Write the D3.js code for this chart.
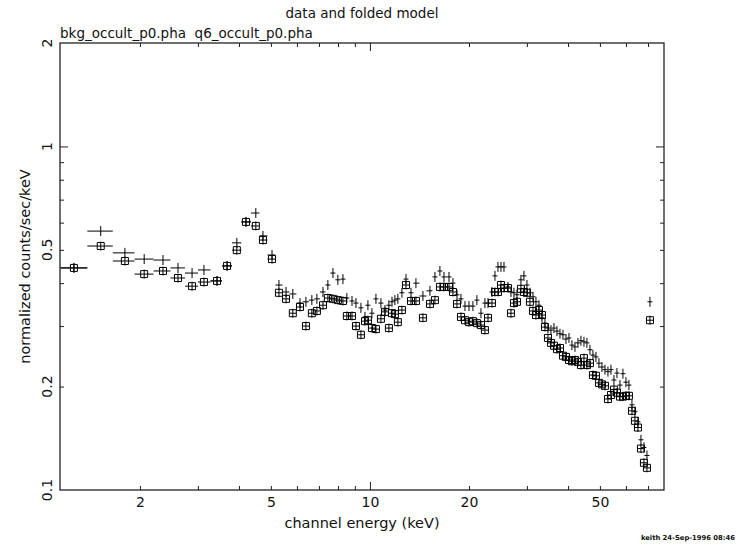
<!DOCTYPE html>
<html>
<head>
<meta charset="utf-8">
<script src="https://cdn.jsdelivr.net/npm/d3@7"></script>
<style>
  body { margin: 0; background: #fff; }
  text { font-family: "DejaVu Sans", sans-serif; fill: #111; }
</style>
</head>
<body>
<div id="chart"></div>
<script>
// channel energies (keV)
const chanE = [
  1.26, 1.52, 1.80, 2.06, 2.35, 2.61, 2.88, 3.13, 3.43, 3.68,
  3.94, 4.20, 4.50, 4.73, 5.04, 5.29, 5.56, 5.83, 6.13, 6.39,
  6.66, 6.90, 7.20, 7.45, 7.72, 7.99, 8.28, 8.51, 8.82, 9.07,
  9.39, 9.66, 9.86, 10.14, 10.43, 10.80, 11.11, 11.42, 11.67, 11.91,
  12.16, 12.51, 12.87, 13.33, 13.80, 14.49, 15.22, 15.76, 16.32, 16.79,
  17.39, 17.88, 18.39, 18.91, 19.45, 20.00, 20.56, 21.14, 21.75, 22.36,
  22.85, 23.49, 23.99, 24.50, 25.02, 25.55, 26.27, 26.83, 27.40, 27.98,
  28.77, 29.38, 30.01, 30.64, 31.30, 31.96, 32.64, 33.33, 34.04, 34.76,
  35.50, 36.25, 37.02, 37.81, 38.61, 39.43, 40.27, 41.11, 41.99, 42.88,
  43.78, 44.72, 45.66, 46.64, 47.62, 48.63, 49.66, 50.72, 51.80, 52.89,
  54.02, 55.16, 56.33, 57.53, 58.75, 59.99, 61.26, 62.57, 63.89, 65.25,
  66.63, 68.05, 69.49, 70.97
];

// bkg_occult_p0.pha (crosses)
const bkgRate = [
  0.443, 0.567, 0.490, 0.470, 0.467, 0.443, 0.428, 0.437, 0.406, 0.449,
  0.524, 0.603, 0.640, 0.549, 0.483, 0.395, 0.377, 0.372, 0.350, 0.353,
  0.357, 0.360, 0.377, 0.395, 0.428, 0.409, 0.411, 0.362, 0.355, 0.350,
  0.339, 0.319, 0.345, 0.327, 0.360, 0.350, 0.334, 0.345, 0.353, 0.357,
  0.360, 0.375, 0.411, 0.375, 0.400, 0.367, 0.380, 0.417, 0.434, 0.417,
  0.417, 0.400, 0.370, 0.360, 0.343, 0.343, 0.343, 0.357, 0.327, 0.350,
  0.350, 0.377, 0.420, 0.446, 0.446, 0.446, 0.390, 0.377, 0.375, 0.370,
  0.409, 0.420, 0.395, 0.375, 0.365, 0.353, 0.345, 0.317, 0.306, 0.296,
  0.292, 0.296, 0.290, 0.285, 0.283, 0.275, 0.277, 0.264, 0.261, 0.268,
  0.272, 0.270, 0.268, 0.256, 0.247, 0.244, 0.234, 0.228, 0.224, 0.221,
  0.224, 0.209, 0.219, 0.202, 0.218, 0.206, 0.202, 0.177, 0.169, 0.158,
  0.140, 0.133, 0.126, 0.353
];

// q6_occult_p0.pha (boxes)
const q6Rate = [
  0.443, 0.513, 0.464, 0.425, 0.434, 0.414, 0.392, 0.403, 0.406, 0.449,
  0.499, 0.603, 0.587, 0.534, 0.470, 0.375, 0.360, 0.327, 0.341, 0.300,
  0.327, 0.332, 0.345, 0.362, 0.360, 0.357, 0.355, 0.321, 0.321, 0.300,
  0.283, 0.310, 0.312, 0.296, 0.294, 0.315, 0.330, 0.296, 0.327, 0.325,
  0.308, 0.334, 0.395, 0.355, 0.355, 0.317, 0.348, 0.357, 0.390, 0.390,
  0.390, 0.377, 0.348, 0.319, 0.312, 0.308, 0.310, 0.306, 0.302, 0.292,
  0.317, 0.350, 0.377, 0.377, 0.395, 0.387, 0.387, 0.327, 0.350, 0.353,
  0.385, 0.377, 0.375, 0.353, 0.332, 0.323, 0.334, 0.323, 0.298, 0.277,
  0.268, 0.263, 0.257, 0.259, 0.246, 0.244, 0.239, 0.237, 0.239, 0.236,
  0.231, 0.242, 0.231, 0.234, 0.216, 0.215, 0.205, 0.203, 0.201, 0.184,
  0.189, 0.196, 0.192, 0.187, 0.187, 0.188, 0.188, 0.170, 0.159, 0.152,
  0.132, 0.120, 0.116, 0.312
];

const xMinorTicks = [2, 3, 4, 5, 6, 7, 8, 9, 20, 30, 40, 50, 60, 70];
const xMajorTicks = [10];
const xTickLabels = [2, 5, 10, 20, 50];
const yMinorTicks = [0.2, 0.3, 0.4, 0.5, 0.6, 0.7, 0.8, 0.9];
const yMajorTicks = [1];
const yTickLabels = [0.1, 0.2, 0.5, 1, 2];

const width = 741;
const height = 550;
const margin = { top: 43, right: 77, bottom: 60, left: 60 };

const svg = d3.select("#chart")
  .append("svg")
  .attr("width", width)
  .attr("height", height);

const x = d3.scaleLog()
  .domain([1.143, 78.3])
  .range([margin.left, width - margin.right]);

const y = d3.scaleLog()
  .domain([0.1, 2])
  .range([height - margin.bottom, margin.top]);

const x0 = margin.left, x1 = width - margin.right;
const y0 = height - margin.bottom, y1 = margin.top;

// bin edges half way (in log) between neighbouring channels
const n = chanE.length;
const edges = chanE.map((e, i) => {
  const lo = i > 0 ? Math.sqrt(chanE[i - 1] * e) : e * Math.sqrt(e / chanE[1]);
  const hi = i < n - 1 ? Math.sqrt(chanE[i + 1] * e) : e * Math.sqrt(e / chanE[n - 2]);
  return [Math.max(lo, x.domain()[0]), hi];
});

// ticks on all four sides, pointing inward
const tickAxis = (axis, values, size, tx, ty) => {
  svg.append("g")
    .attr("transform", `translate(${tx},${ty})`)
    .call(axis.tickValues(values).tickSize(size).tickSizeOuter(0).tickFormat(""))
    .call(g => g.select(".domain").remove())
    .selectAll("line")
    .attr("stroke", "#222")
    .attr("stroke-width", 1);
};
tickAxis(d3.axisBottom(x), xMinorTicks, -4, 0, y0);
tickAxis(d3.axisBottom(x), xMajorTicks, -8, 0, y0);
tickAxis(d3.axisTop(x), xMinorTicks, -4, 0, y1);
tickAxis(d3.axisTop(x), xMajorTicks, -8, 0, y1);
tickAxis(d3.axisLeft(y), yMinorTicks, -4, x0, 0);
tickAxis(d3.axisLeft(y), yMajorTicks, -8, x0, 0);
tickAxis(d3.axisRight(y), yMinorTicks, -4, x1, 0);
tickAxis(d3.axisRight(y), yMajorTicks, -8, x1, 0);

svg.append("rect")
  .attr("x", x0)
  .attr("y", y1)
  .attr("width", x1 - x0)
  .attr("height", y0 - y1)
  .attr("fill", "none")
  .attr("stroke", "#222")
  .attr("stroke-width", 1.3);

// tick labels
svg.append("g")
  .attr("transform", `translate(0,${y0})`)
  .call(d3.axisBottom(x).tickValues(xTickLabels).tickSize(0).tickPadding(7).tickFormat(d3.format("d")))
  .call(g => g.select(".domain").remove())
  .selectAll("text")
  .attr("font-family", "DejaVu Sans, sans-serif")
  .attr("font-size", 14)
  .attr("fill", "#111");

svg.append("g")
  .selectAll("text")
  .data(yTickLabels)
  .enter()
  .append("text")
  .attr("transform", d => `translate(52,${y(d)}) rotate(-90)`)
  .attr("text-anchor", "middle")
  .attr("font-size", 14)
  .text(d => d);

// data points
const pts = svg.append("g")
  .attr("stroke", "#000")
  .attr("stroke-width", 1)
  .attr("fill", "none");

pts.selectAll(".bkg")
  .data(bkgRate)
  .enter()
  .append("path")
  .attr("class", "bkg")
  .attr("d", (v, i) => {
    const cx = x(chanE[i]), cy = y(v);
    const l = Math.min(x(edges[i][0]), cx - 2.5);
    const r = Math.max(x(edges[i][1]), cx + 2.5);
    return `M${l},${cy}H${r}M${cx},${cy - 5}V${cy + 5}`;
  });

pts.selectAll(".q6")
  .data(q6Rate)
  .enter()
  .append("path")
  .attr("class", "q6")
  .attr("d", (v, i) => {
    const cx = x(chanE[i]), cy = y(v);
    const s = 3.5;
    const l = Math.min(x(edges[i][0]), cx - s);
    const r = Math.max(x(edges[i][1]), cx + s);
    return `M${cx - s},${cy - s}h${2 * s}v${2 * s}h${-2 * s}Z` +
      `M${l},${cy}H${r}M${cx},${cy - 4.5}V${cy + 4.5}`;
  });

// titles
svg.append("text")
  .attr("x", (x0 + x1) / 2)
  .attr("y", 18)
  .attr("text-anchor", "middle")
  .attr("font-size", 13.5)
  .text("data and folded model");

svg.append("text")
  .attr("x", x0)
  .attr("y", 38)
  .attr("font-size", 13.5)
  .attr("xml:space", "preserve")
  .text("bkg_occult_p0.pha  q6_occult_p0.pha");

svg.append("text")
  .attr("transform", `translate(30,${(y0 + y1) / 2}) rotate(-90)`)
  .attr("text-anchor", "middle")
  .attr("font-size", 14.5)
  .text("normalized counts/sec/keV");

svg.append("text")
  .attr("x", (x0 + x1) / 2)
  .attr("y", 528)
  .attr("text-anchor", "middle")
  .attr("font-size", 14.5)
  .text("channel energy (keV)");

svg.append("text")
  .attr("x", 735)
  .attr("y", 540)
  .attr("text-anchor", "end")
  .attr("font-family", "Liberation Sans, sans-serif")
  .attr("font-weight", "bold")
  .attr("font-size", 6.8)
  .text("keith 24-Sep-1996 08:46");
</script>
</body>
</html>
